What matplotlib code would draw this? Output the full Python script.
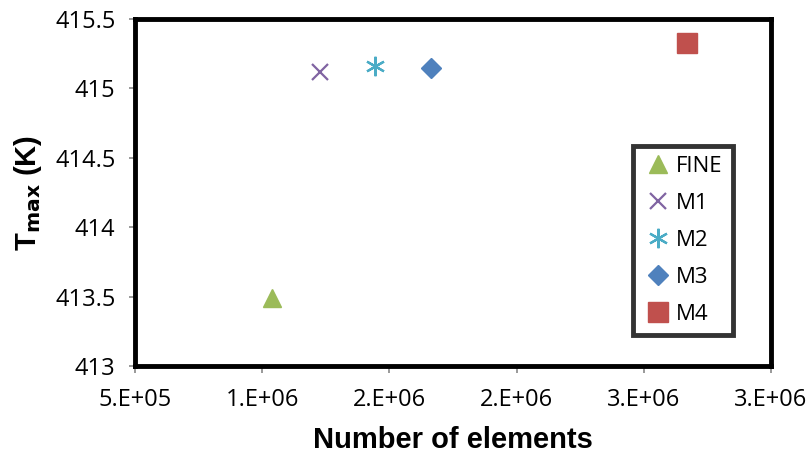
import matplotlib
matplotlib.use("Agg")
import matplotlib.pyplot as plt
from matplotlib.ticker import FixedLocator, FixedFormatter

labels = ["FINE", "M1", "M2", "M3", "M4"]
elements = [1.04e6, 1.228e6, 1.443e6, 1.662e6, 2.671e6]
tmax = [413.49, 415.12, 415.16, 415.15, 415.33]
markers = ["^", "x", "*", "D", "s"]
colors = ["#9BBB59", "#8064A2", "#4BACC6", "#4F81BD", "#C0504D"]
sizes = [13, 12, 14, 10, 14]

xticks = [5e5, 1e6, 1.5e6, 2e6, 2.5e6, 3e6]
xticklabels = ["5.E+05", "1.E+06", "2.E+06", "2.E+06", "3.E+06", "3.E+06"]
yticks = [413, 413.5, 414, 414.5, 415, 415.5]
yticklabels = ["413", "413.5", "414", "414.5", "415", "415.5"]

fig = plt.figure(figsize=(8.11, 4.59), dpi=100)
ax = fig.add_axes([0.1665, 0.2026, 0.784, 0.756])

for lab, x, y, m, c, s in zip(labels, elements, tmax, markers, colors, sizes):
    if m == "*":
        ax.plot([x], [y], linestyle="none", marker=(6, 2, 0), markersize=s,
                markeredgecolor=c, markeredgewidth=1.6, label=lab)
    elif m == "x":
        ax.plot([x], [y], linestyle="none", marker="x", markersize=s,
                markeredgecolor=c, markeredgewidth=1.6, label=lab)
    else:
        ax.plot([x], [y], linestyle="none", marker=m, markersize=s,
                markerfacecolor=c, markeredgecolor=c, label=lab)

ax.set_xlim(5e5, 3e6)
ax.set_ylim(413, 415.5)
ax.xaxis.set_major_locator(FixedLocator(xticks))
ax.xaxis.set_major_formatter(FixedFormatter(xticklabels))
ax.yaxis.set_major_locator(FixedLocator(yticks))
ax.yaxis.set_major_formatter(FixedFormatter(yticklabels))

for sp in ax.spines.values():
    sp.set_linewidth(3.5)
    sp.set_color("black")

ax.tick_params(axis="both", direction="out", width=1.2, color="#888888",
               labelsize=17)
ax.tick_params(axis="x", length=5, pad=11)
ax.tick_params(axis="y", length=4, pad=10)
for t in ax.get_xticklabels() + ax.get_yticklabels():
    t.set_family("Open Sans")

ax.set_xlabel("Number of elements", fontsize=21, fontweight="bold",
              family="Liberation Sans", labelpad=10)
ax.set_ylabel(r"T$_{\mathbf{max}}$ (K)", fontsize=21, fontweight="bold",
              family="Liberation Sans", labelpad=8)

leg = ax.legend(loc="upper left", bbox_to_anchor=(0.783, 0.634), frameon=True,
                fancybox=False, prop={"family": "Open Sans", "size": 16},
                handletextpad=0.1, labelspacing=0.72, borderpad=0.45,
                handlelength=1.4, borderaxespad=0)
leg.get_frame().set_edgecolor("black")
leg.get_frame().set_linewidth(3.5)

fig.savefig("out.png", dpi=100)
